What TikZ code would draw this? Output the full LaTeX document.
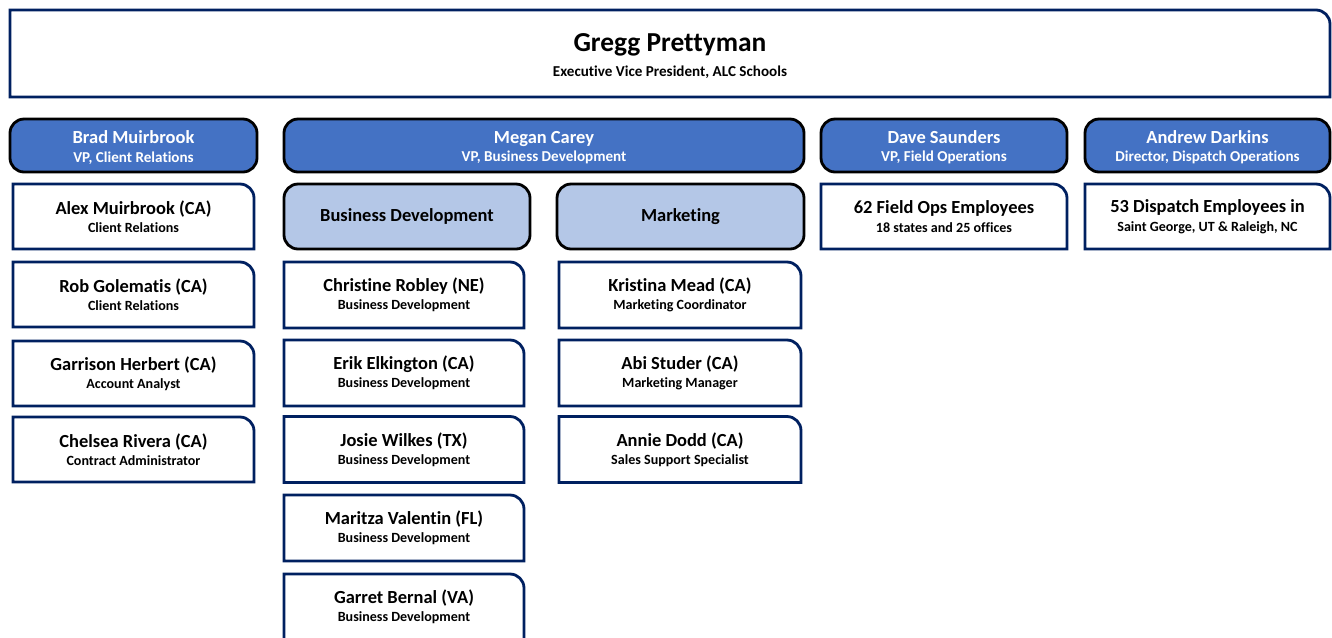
\documentclass[tikz,border=0pt]{standalone}
\usepackage{fontspec}
\setmainfont{Carlito}[Ligatures={NoCommon,NoRequired,NoContextual}]
\usepackage{xcolor}

\definecolor{headblue}{HTML}{4472C4}
\definecolor{teamblue}{HTML}{B4C7E7}
\definecolor{navy}{HTML}{002060}

\tikzset{
  boxsize/.style 2 args={minimum width=#1*0.02cm, minimum height=#2*0.02cm},
  head/.style={draw=black, fill=headblue, text=white, rounded corners=8pt,
    line width=1.6pt, inner sep=0pt, align=center, font=\bfseries},
  team/.style={draw=black, fill=teamblue, rounded corners=8pt, line width=1.6pt,
    inner sep=0pt, font=\bfseries\fontsize{10.5}{12}\selectfont},
  staff/.style={inner sep=0pt, outer sep=0pt, align=center, font=\bfseries},
  staffline/.style={draw=navy, line width=1.6pt}
}

% name on top, job title below
\newcommand{\who}[2]{{\fontsize{10.5}{12}\selectfont #1}\\[-1.5pt]{\fontsize{8}{10}\selectfont #2}}
\newcommand{\boss}[2]{{\fontsize{10.5}{12}\selectfont #1}\\[-1.6pt]{\fontsize{8.6}{10}\selectfont #2}}

\begin{document}
\begin{tikzpicture}[x=0.02cm, y=-0.02cm]
    \useasboundingbox (0,0) rectangle (1332,637);
    \clip (0,0) rectangle (1332,637);

    % Top
    \node[staff, boxsize={1320}{87}] (top) at (670,53.5) {};
    \node[staff] (gregg) at (670,56)
      {{\fontsize{15.6}{18}\selectfont Gregg Prettyman}\\[1.8pt]{\fontsize{8.6}{10}\selectfont Executive Vice President, ALC Schools}};

    % Department heads
    \node[head, boxsize={247}{53}] (brad) at (133.5,145.5) {};
    \node[head, boxsize={520}{53}] (megan) at (544,145.5) {};
    \node[head, boxsize={246}{53}] (dave) at (944,145.5) {};
    \node[head, boxsize={245}{53}] (andrew) at (1207.5,145.5) {};
    \node[staff, text=white] (bradtxt) at (133.5,147.5) {\boss{Brad Muirbrook}{VP, Client Relations}};
    \node[staff, text=white] (megantxt) at (544,147.5) {\boss{Megan Carey}{VP, Business Development}};
    \node[staff, text=white] (davetxt) at (944,147.5) {\boss{Dave Saunders}{VP, Field Operations}};
    \node[staff, text=white] (andrewtxt) at (1207.5,147.5) {\boss{Andrew Darkins}{Director, Dispatch Operations}};

    % Teams under Megan
    \node[team, boxsize={246}{65}] (bizdev) at (407,216.5) {Business Development};
    \node[team, boxsize={247}{65}] (mktg) at (680.5,216.5) {Marketing};

    % Client Relations
    \node[staff, boxsize={241}{65}] (alex) at (133.5,216.5) {\who{Alex Muirbrook (CA)}{Client Relations}};
    \node[staff, boxsize={241}{65}] (rob) at (133.5,294.5) {\who{Rob Golematis (CA)}{Client Relations}};
    \node[staff, boxsize={241}{65}] (garrison) at (133.5,373.5) {\who{Garrison Herbert (CA)}{Account Analyst}};
    \node[staff, boxsize={241}{65}] (chelsea) at (133.5,449.5) {\who{Chelsea Rivera (CA)}{Contract Administrator}};

    % Business Development
    \node[staff, boxsize={240}{66}] (christine) at (404,295) {\who{Christine Robley (NE)}{Business Development}};
    \node[staff, boxsize={240}{66}] (erik) at (404,373) {\who{Erik Elkington (CA)}{Business Development}};
    \node[staff, boxsize={240}{66}] (josie) at (404,449.5) {\who{Josie Wilkes (TX)}{Business Development}};
    \node[staff, boxsize={240}{66}] (maritza) at (404,528) {\who{Maritza Valentin (FL)}{Business Development}};
    \node[staff, boxsize={240}{66}] (garret) at (404,607) {\who{Garret Bernal (VA)}{Business Development}};

    % Marketing
    \node[staff, boxsize={242}{66}] (kristina) at (680,295) {\who{Kristina Mead (CA)}{Marketing Coordinator}};
    \node[staff, boxsize={242}{66}] (abi) at (680,373) {\who{Abi Studer (CA)}{Marketing Manager}};
    \node[staff, boxsize={242}{66}] (annie) at (680,449.5) {\who{Annie Dodd (CA)}{Sales Support Specialist}};

    % Field and dispatch
    \node[staff, boxsize={246}{65}] (field) at (944,216.5) {\who{62 Field Ops Employees}{18 states and 25 offices}};
    \node[staff, boxsize={245}{65}] (dispatch) at (1207.5,216.5) {\who{53 Dispatch Employees in}{Saint George, UT \& Raleigh, NC}};

    % Outlines, only the top right corner is rounded
    \foreach \n in {top,alex,rob,garrison,chelsea,christine,erik,josie,maritza,garret,kristina,abi,annie,field,dispatch}
      \draw[staffline] (\n.south west) -- (\n.north west) -- ([xshift=-8pt]\n.north east)
        arc[start angle=90, end angle=0, radius=8pt] -- (\n.south east) -- cycle;
\end{tikzpicture}
\end{document}
